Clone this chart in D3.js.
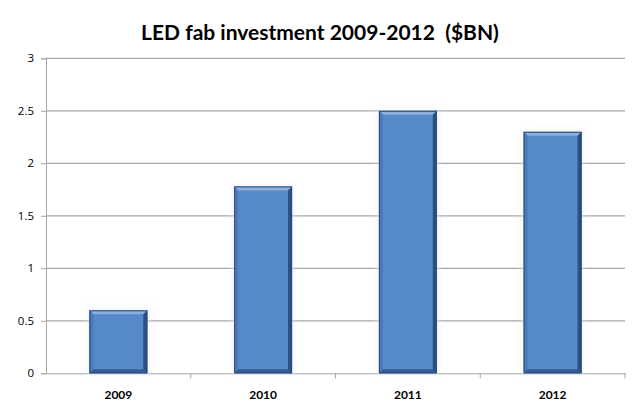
<!DOCTYPE html>
<html><head><meta charset="utf-8">
<script src="https://cdn.jsdelivr.net/npm/d3@7"></script>
<style>body{margin:0;background:#fff}svg{display:block}</style>
</head><body>
<svg id="c" width="642" height="419"></svg>
<script>
const categories = ["2009","2010","2011","2012"];
const values = [0.6, 1.78, 2.5, 2.3];
const yTicks = [0, 0.5, 1, 1.5, 2, 2.5, 3];
const title = "LED fab investment 2009-2012  ($BN)";

const svg = d3.select("#c");
const m = {l:46, r:17, t:58.3, b:45.7};
const W = 642, H = 419;
const x = d3.scaleBand().domain(categories).range([m.l, W-m.r]).paddingInner(0.6).paddingOuter(0.3);
const y = d3.scaleLinear().domain([0,3]).range([H-m.b, m.t]);

svg.append("text").attr("x", 320).attr("y", 40).attr("text-anchor","middle")
  .style("white-space","pre")
  .style("font-family","Lato, 'Open Sans', sans-serif").style("font-weight","bold").style("font-size","21px")
  .attr("fill","#000").text(title);

// gridlines
svg.append("g").selectAll("line").data(yTicks.filter(d=>d>0)).join("line")
  .attr("x1", m.l).attr("x2", W-m.r).attr("y1", d=>y(d)).attr("y2", d=>y(d))
  .attr("stroke","#a6a6a6").attr("stroke-width",1.2);

// y axis
const ya = svg.append("g").attr("transform",`translate(${m.l},0)`)
  .call(d3.axisLeft(y).tickValues(yTicks).tickSize(5).tickPadding(7).tickFormat(d3.format("")));
ya.select(".domain").attr("stroke","#a6a6a6");
ya.selectAll(".tick line").attr("stroke","#a6a6a6");
ya.selectAll("text").style("font-family","'Open Sans', 'DejaVu Sans', sans-serif").style("font-size","11.5px").attr("fill","#000");

// x axis
const xa = svg.append("g").attr("transform",`translate(0,${y(0)})`)
  .call(d3.axisBottom(x).tickSize(0).tickPadding(17));
xa.select(".domain").attr("stroke","#a6a6a6");
xa.selectAll("text").style("font-family","Lato, 'Open Sans', sans-serif").style("font-weight","bold").style("font-size","12px").attr("fill","#000");
// boundary ticks
const step = x.step();
const bounds = d3.range(categories.length+1).map(i => m.l + i*step);
svg.append("g").selectAll("line").data(bounds.slice(1)).join("line")
  .attr("x1", d=>d).attr("x2", d=>d).attr("y1", y(0)).attr("y2", y(0)+5)
  .attr("stroke","#a6a6a6");

// bars with bevel
const defs = svg.append("defs");
const f = defs.append("filter").attr("id","glow").attr("x","-30%").attr("y","-30%").attr("width","160%").attr("height","160%");
f.append("feGaussianBlur").attr("stdDeviation",3);
const bars = svg.append("g").selectAll("g").data(categories.map((c,i)=>({c, v: values[i]}))).join("g");
const bev = 4;
bars.append("rect").attr("x", d=>x(d.c)-2).attr("y", d=>y(d.v)-2).attr("width", x.bandwidth()+4)
  .attr("height", d=>y(0)-y(d.v)+2).attr("fill","#e8edf4").attr("opacity",0.6).attr("filter","url(#glow)");
bars.append("rect").attr("x", d=>x(d.c)).attr("y", d=>y(d.v)).attr("width", x.bandwidth())
  .attr("height", d=>y(0)-y(d.v)).attr("fill","#5589c9");
// top bevel
bars.append("polygon").attr("points", d=>{const x0=x(d.c), x1=x0+x.bandwidth(), t=y(d.v);
  return [[x0,t],[x1,t],[x1-bev,t+bev],[x0+bev,t+bev]].join(" ");}).attr("fill","#8cb0de");
// left bevel
bars.append("polygon").attr("points", d=>{const x0=x(d.c), t=y(d.v), b=y(0);
  return [[x0,t],[x0+bev,t+bev],[x0+bev,b-bev],[x0,b]].join(" ");}).attr("fill","#4b7cba");
// right bevel
bars.append("polygon").attr("points", d=>{const x1=x(d.c)+x.bandwidth(), t=y(d.v), b=y(0);
  return [[x1,t],[x1-bev,t+bev],[x1-bev,b-bev],[x1,b]].join(" ");}).attr("fill","#2b4f80");
// bottom bevel
bars.append("polygon").attr("points", d=>{const x0=x(d.c), x1=x0+x.bandwidth(), b=y(0);
  return [[x0,b],[x0+bev,b-bev],[x1-bev,b-bev],[x1,b]].join(" ");}).attr("fill","#355d94");
bars.append("rect").attr("x", d=>x(d.c)+0.5).attr("y", d=>y(d.v)+0.5).attr("width", x.bandwidth()-1)
  .attr("height", d=>y(0)-y(d.v)-1).attr("fill","none").attr("stroke","#2a4a78").attr("stroke-width",1);
</script>
</body></html>
